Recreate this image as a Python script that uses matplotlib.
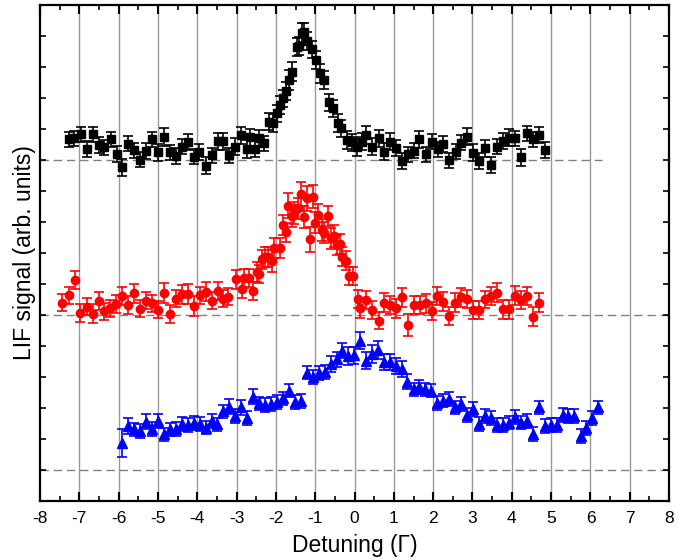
import numpy as np
import matplotlib.pyplot as plt

plt.rcParams['font.family'] = ['Liberation Sans', 'DejaVu Sans']
plt.rcParams['axes.unicode_minus'] = False

# black squares (top trace, baseline 11)
x_sq = [-7.26, -7.13, -6.96, -6.81, -6.66, -6.51, -6.37, -6.20, -6.05, -5.91,
        -5.75, -5.60, -5.45, -5.31, -5.15, -5.00, -4.85, -4.69, -4.55, -4.40,
        -4.24, -4.08, -3.95, -3.79, -3.63, -3.48, -3.35, -3.19, -3.03, -2.89,
        -2.74, -2.65, -2.53, -2.42, -2.30, -2.17, -2.08, -1.98, -1.90, -1.83,
        -1.75, -1.67, -1.60, -1.47, -1.40, -1.34, -1.28, -1.22, -1.09, -0.99,
        -0.88, -0.78, -0.64, -0.54, -0.41, -0.35, -0.20, -0.07, 0.06, 0.18,
        0.29, 0.44, 0.61, 0.75, 0.90, 1.06, 1.20, 1.37, 1.50, 1.65,
        1.82, 1.96, 2.12, 2.26, 2.40, 2.57, 2.71, 2.86, 3.02, 3.17,
        3.32, 3.47, 3.63, 3.77, 3.92, 4.08, 4.23, 4.38, 4.53, 4.69, 4.84]
y_sq = [11.67, 11.70, 11.83, 11.36, 11.83, 11.49, 11.41, 11.67, 11.20, 10.76,
        11.53, 11.31, 11.01, 11.29, 11.67, 11.25, 11.74, 11.25, 11.13, 11.43,
        11.58, 11.11, 11.26, 10.82, 11.15, 11.60, 11.60, 11.15, 11.43, 11.80,
        11.36, 11.73, 11.35, 11.70, 11.54, 12.24, 12.19, 12.51, 12.77, 12.99,
        13.23, 13.58, 13.85, 14.65, 14.68, 15.09, 15.12, 14.84, 14.57, 14.23,
        13.80, 13.58, 12.86, 12.67, 12.19, 12.02, 11.65, 11.57, 11.43, 11.59,
        11.81, 11.43, 11.70, 11.27, 11.59, 11.38, 10.97, 11.18, 11.30, 11.67,
        11.18, 11.59, 11.34, 11.52, 10.99, 11.27, 11.56, 11.75, 11.24, 10.97,
        11.38, 10.84, 11.43, 11.62, 11.72, 11.70, 11.09, 11.86, 11.67, 11.81, 11.32]
e_sq = [0.25, 0.25, 0.25, 0.25, 0.25, 0.25, 0.25, 0.25, 0.25, 0.28,
        0.25, 0.25, 0.25, 0.25, 0.25, 0.28, 0.28, 0.25, 0.25, 0.25,
        0.25, 0.25, 0.25, 0.28, 0.25, 0.28, 0.28, 0.25, 0.28, 0.28,
        0.28, 0.28, 0.25, 0.28, 0.25, 0.28, 0.28, 0.28, 0.28, 0.28,
        0.30, 0.32, 0.30, 0.30, 0.30, 0.32, 0.30, 0.28, 0.28, 0.28,
        0.30, 0.30, 0.28, 0.28, 0.28, 0.28, 0.28, 0.28, 0.30, 0.28,
        0.28, 0.28, 0.28, 0.28, 0.28, 0.25, 0.25, 0.25, 0.25, 0.28,
        0.25, 0.25, 0.25, 0.25, 0.25, 0.25, 0.25, 0.28, 0.28, 0.25,
        0.28, 0.25, 0.25, 0.25, 0.28, 0.25, 0.28, 0.25, 0.25, 0.25, 0.25]

# red circles (middle trace, baseline 6)
x_ci = [-7.43, -7.27, -7.12, -6.97, -6.81, -6.66, -6.51, -6.37, -6.21, -6.06,
        -5.91, -5.76, -5.60, -5.46, -5.31, -5.15, -5.00, -4.85, -4.69, -4.54,
        -4.39, -4.24, -4.09, -3.94, -3.79, -3.63, -3.48, -3.34, -3.21, -3.02,
        -2.87, -2.80, -2.68, -2.57, -2.48, -2.42, -2.36, -2.28, -2.19, -2.11,
        -2.04, -1.90, -1.81, -1.74, -1.68, -1.60, -1.53, -1.45, -1.36, -1.29,
        -1.22, -1.13, -1.06, -1.01, -0.92, -0.83, -0.77, -0.68, -0.60, -0.51,
        -0.45, -0.37, -0.31, -0.22, -0.14, -0.05, 0.08, 0.14, 0.29, 0.45,
        0.61, 0.75, 0.90, 1.06, 1.21, 1.36, 1.51, 1.67, 1.81, 1.96,
        2.11, 2.26, 2.41, 2.56, 2.72, 2.87, 3.02, 3.17, 3.32, 3.47,
        3.62, 3.77, 3.92, 4.08, 4.23, 4.38, 4.53, 4.69]
y_ci = [6.40, 6.63, 7.13, 6.07, 6.27, 6.04, 6.45, 6.12, 6.22, 6.35,
        6.61, 6.32, 6.70, 6.20, 6.46, 6.38, 6.17, 6.72, 6.03, 6.53,
        6.67, 6.68, 6.28, 6.63, 6.75, 6.46, 6.78, 6.53, 6.59, 7.15,
        6.85, 7.18, 7.20, 6.78, 7.40, 7.32, 7.80, 7.88, 7.86, 7.74,
        8.15, 8.15, 8.90, 8.67, 9.52, 9.19, 9.28, 9.44, 9.90, 9.17,
        9.76, 8.44, 9.82, 8.98, 9.23, 8.74, 8.66, 9.19, 8.47, 8.55,
        8.26, 8.29, 7.88, 7.75, 7.26, 7.26, 6.51, 6.21, 6.48, 6.16,
        5.82, 6.40, 6.32, 6.21, 6.57, 5.68, 6.32, 6.32, 6.38, 6.13,
        6.61, 6.43, 5.97, 6.40, 6.57, 6.52, 6.16, 6.16, 6.51, 6.61,
        6.72, 6.18, 6.18, 6.62, 6.48, 6.61, 5.95, 6.40]
e_ci = [0.28, 0.28, 0.30, 0.30, 0.28, 0.30, 0.30, 0.28, 0.28, 0.28,
        0.30, 0.28, 0.30, 0.28, 0.28, 0.28, 0.28, 0.32, 0.28, 0.28,
        0.30, 0.32, 0.32, 0.28, 0.30, 0.28, 0.30, 0.28, 0.28, 0.30,
        0.30, 0.32, 0.30, 0.30, 0.32, 0.30, 0.30, 0.32, 0.32, 0.35,
        0.32, 0.32, 0.32, 0.30, 0.40, 0.35, 0.35, 0.35, 0.38, 0.35,
        0.40, 0.40, 0.38, 0.35, 0.35, 0.35, 0.35, 0.32, 0.35, 0.35,
        0.32, 0.32, 0.30, 0.30, 0.30, 0.30, 0.30, 0.30, 0.30, 0.30,
        0.28, 0.30, 0.30, 0.30, 0.30, 0.35, 0.30, 0.30, 0.30, 0.28,
        0.30, 0.30, 0.28, 0.30, 0.30, 0.30, 0.28, 0.28, 0.28, 0.30,
        0.30, 0.30, 0.30, 0.30, 0.30, 0.30, 0.30, 0.30]

# blue triangles (bottom trace, baseline 1)
x_tr = [-5.92, -5.76, -5.61, -5.46, -5.31, -5.15, -5.00, -4.85, -4.69, -4.54,
        -4.40, -4.24, -4.09, -3.94, -3.79, -3.63, -3.49, -3.34, -3.19, -3.03,
        -2.89, -2.74, -2.58, -2.43, -2.28, -2.13, -1.98, -1.83, -1.67, -1.52,
        -1.37, -1.22, -1.06, -0.91, -0.76, -0.61, -0.45, -0.31, -0.16, -0.01,
        0.14, 0.29, 0.44, 0.59, 0.74, 0.90, 1.05, 1.20, 1.34, 1.50,
        1.65, 1.80, 1.95, 2.11, 2.26, 2.40, 2.56, 2.71, 2.86, 3.02,
        3.17, 3.32, 3.47, 3.63, 3.78, 3.93, 4.08, 4.24, 4.39, 4.53,
        4.69, 4.84, 4.99, 5.14, 5.29, 5.44, 5.59, 5.75, 5.89, 6.04, 6.20]
y_tr = [1.88, 2.42, 2.31, 2.25, 2.56, 2.33, 2.59, 2.15, 2.31, 2.33,
        2.48, 2.45, 2.51, 2.48, 2.37, 2.59, 2.47, 2.89, 3.04, 2.74,
        3.02, 2.68, 3.37, 3.15, 3.10, 3.13, 3.20, 3.31, 3.56, 3.20,
        3.23, 4.14, 3.99, 4.12, 4.17, 4.42, 4.57, 4.85, 4.68, 4.70,
        5.17, 4.53, 4.74, 4.87, 4.49, 4.49, 4.35, 4.25, 3.85, 3.60,
        3.69, 3.60, 3.56, 3.17, 3.24, 3.30, 3.02, 3.13, 2.77, 2.96,
        2.48, 2.74, 2.67, 2.45, 2.45, 2.53, 2.70, 2.53, 2.59, 2.16,
        3.02, 2.42, 2.45, 2.45, 2.77, 2.74, 2.74, 2.10, 2.35, 2.67, 3.02]
e_tr = [0.45, 0.25, 0.22, 0.22, 0.25, 0.22, 0.22, 0.22, 0.22, 0.22,
        0.22, 0.22, 0.22, 0.22, 0.22, 0.22, 0.22, 0.22, 0.25, 0.22,
        0.25, 0.22, 0.25, 0.22, 0.22, 0.22, 0.22, 0.22, 0.20, 0.22,
        0.22, 0.22, 0.22, 0.22, 0.22, 0.25, 0.25, 0.25, 0.28, 0.28,
        0.28, 0.28, 0.28, 0.28, 0.25, 0.25, 0.25, 0.25, 0.25, 0.22,
        0.22, 0.22, 0.22, 0.22, 0.22, 0.22, 0.22, 0.22, 0.22, 0.22,
        0.22, 0.22, 0.22, 0.22, 0.22, 0.22, 0.22, 0.22, 0.22, 0.22,
        0.22, 0.22, 0.22, 0.22, 0.22, 0.22, 0.22, 0.22, 0.22, 0.22, 0.22]

baselines = [11, 6, 1]
baseline_ends = [6.3, 8, 8]

fig = plt.figure(figsize=(6.99, 5.60), dpi=100)
ax = fig.add_axes([0.0572, 0.1054, 0.9, 0.8856])

for xg in range(-7, 8):
    ax.axvline(xg, color='#999999', lw=1.0, zorder=0)

for yb, xe in zip(baselines, baseline_ends):
    ax.hlines(yb, -8, xe, colors='#808080', linestyles=(0, (6, 3.5)), lw=1.0, zorder=1)

ax.errorbar(x_sq, y_sq, yerr=e_sq, fmt='s', color='black', ms=5.5, capsize=3.5,
            elinewidth=1.2, capthick=1.2, zorder=3)
ax.errorbar(x_ci, y_ci, yerr=e_ci, fmt='o', color='#ff0000', ms=6, capsize=3.5,
            elinewidth=1.2, capthick=1.2, zorder=3)
ax.errorbar(x_tr, y_tr, yerr=e_tr, fmt='^', color='#0000ff', ms=6.5, capsize=3.5,
            elinewidth=1.2, capthick=1.2, zorder=3)

ax.set_xlim(-8, 8)
ax.set_ylim(0, 16)
ax.set_xticks(range(-8, 9))
ax.set_xticks(np.arange(-7.5, 8, 1), minor=True)
ax.set_yticks(range(0, 17))
ax.set_yticklabels([])
ax.tick_params(axis='x', which='major', direction='in', length=6.5, width=1.5,
               top=True, labelsize=12.5, pad=7)
ax.tick_params(axis='x', which='minor', direction='in', length=3.5, width=1.2, top=True)
ax.tick_params(axis='y', which='major', direction='in', length=4.5, width=1.2, right=True)
for s in ax.spines.values():
    s.set_linewidth(1.6)

ax.set_xlabel('Detuning (Γ)', fontsize=16.5)
ax.set_ylabel('LIF signal (arb. units)', fontsize=16.5)
ax.xaxis.set_label_coords(0.5, -0.066)
ax.yaxis.set_label_coords(-0.006, 0.5)

fig.savefig('out.png', dpi=100)
